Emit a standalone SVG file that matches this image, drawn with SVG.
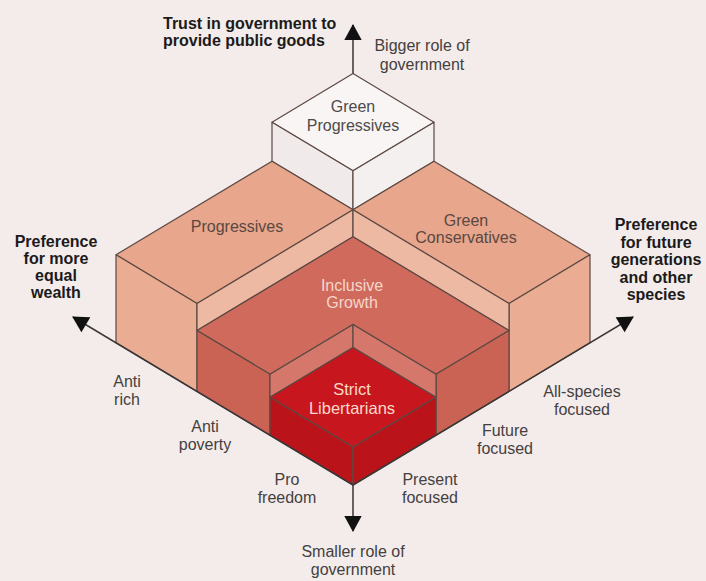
<svg xmlns="http://www.w3.org/2000/svg" width="706" height="581" viewBox="0 0 706 581">
<defs>
<style>
.bg{fill:#f3ecea}
.e{stroke:#5c4943;stroke-width:1.2;stroke-linejoin:round}
.gpT{fill:#f8f5f4}.gpL{fill:#f0ebea}.gpR{fill:#f4f0ef}
.wT{fill:#e8a68c}.wF{fill:#eaad94}.wI{fill:#eeb9a2}
.igT{fill:#cf6a5c}.igF{fill:#cb6355}.igI{fill:#d5786b}
.slT{fill:#c8161e}.slF{fill:#bb131a}
.ax{stroke:#3a3636;stroke-width:1.5;fill:none}
text{font-family:"Liberation Sans",Arial,sans-serif;font-size:16px;text-anchor:middle}
.hd{font-weight:bold;fill:#1c1a1a}
.al{fill:#45403f}
.nl{fill:#5a4842}
.gl{fill:#4e4a49}
.pl{fill:#f7d6cb}
.sl{fill:#fad9ca;font-size:16.5px}
</style>
<marker id="arr" markerUnits="userSpaceOnUse" markerWidth="20" markerHeight="20" refX="0" refY="0" orient="auto" overflow="visible" viewBox="-16 -10 18 20">
<path d="M1,0 L-15,-8.7 L-15,8.7 Z" fill="#111"/>
</marker>
</defs>
<rect class="bg" x="0" y="0" width="706" height="581"/>

<g id="green-progressives">
<polygon class="gpT e" points="353,170.8 272,122.2 353,73.6 434,122.2"/>
<polygon class="gpL e" points="353,170.8 272,122.2 272,161.2 353,209.8"/>
<polygon class="gpR e" points="353,170.8 434,122.2 434,161.2 353,209.8"/>
<text class="gl" x="353" y="112">Green</text>
<text class="gl" x="353" y="131">Progressives</text>
</g>

<g id="progressives">
<polygon class="wT e" points="116,254.8 272,161.2 353,209.8 197,303.4"/>
<polygon class="wF e" points="116,254.8 197,303.4 197,391.4 116,342.8"/>
<polygon class="wI e" points="197,303.4 353,209.8 353,236.8 197,330.4"/>
<text class="nl" x="237" y="232">Progressives</text>
</g>

<g id="green-conservatives">
<polygon class="wT e" points="590,254.8 434,161.2 353,209.8 509,303.4"/>
<polygon class="wF e" points="590,254.8 509,303.4 509,391.4 590,342.8"/>
<polygon class="wI e" points="509,303.4 353,209.8 353,236.8 509,330.4"/>
<text class="nl" x="466" y="226">Green</text>
<text class="nl" x="466" y="243">Conservatives</text>
</g>

<g id="inclusive-growth">
<polygon class="igT e" points="197,330.4 353,236.8 509,330.4 436,374.2 353,324.4 270,374.2"/>
<polygon class="igF e" points="197,330.4 270,374.2 270,435.2 197,391.4"/>
<polygon class="igF e" points="509,330.4 436,374.2 436,435.2 509,391.4"/>
<polygon class="igI e" points="270,374.2 353,324.4 353,347.4 270,397.2"/>
<polygon class="igI e" points="436,374.2 353,324.4 353,347.4 436,397.2"/>
<text class="pl" x="352" y="291">Inclusive</text>
<text class="pl" x="352" y="308">Growth</text>
</g>

<g id="strict-libertarians">
<polygon class="slT e" points="270,397.2 353,347.4 436,397.2 353,447"/>
<polygon class="slF e" points="270,397.2 353,447 353,485 270,435.2"/>
<polygon class="slF e" points="353,447 436,397.2 436,435.2 353,485"/>
<text class="sl" x="352" y="395">Strict</text>
<text class="sl" x="352" y="414">Libertarians</text>
</g>

<g id="connectors">
<line class="ax" x1="353" y1="73.6" x2="353" y2="25" marker-end="url(#arr)"/>
<line class="ax" x1="353" y1="485" x2="353" y2="531" marker-end="url(#arr)"/>
<line class="ax" x1="353" y1="485" x2="73" y2="317" marker-end="url(#arr)"/>
<line class="ax" x1="353" y1="485" x2="633" y2="317" marker-end="url(#arr)"/>
</g>

<g id="axis-titles">
<text class="hd" x="163" y="29" style="text-anchor:start">Trust in government to</text>
<text class="hd" x="163" y="46" style="text-anchor:start">provide public goods</text>
<text class="hd" x="56" y="246.5">Preference</text>
<text class="hd" x="56" y="263.5">for more</text>
<text class="hd" x="56" y="280.5">equal</text>
<text class="hd" x="56" y="297.5">wealth</text>
<text class="hd" x="656" y="230">Preference</text>
<text class="hd" x="656" y="247.5">for future</text>
<text class="hd" x="656" y="265">generations</text>
<text class="hd" x="656" y="282.5">and other</text>
<text class="hd" x="656" y="300">species</text>
</g>

<g id="axis-labels">
<text class="al" x="422" y="51">Bigger role of</text>
<text class="al" x="422" y="70">government</text>
<text class="al" x="127" y="387">Anti</text>
<text class="al" x="127" y="405">rich</text>
<text class="al" x="205" y="432">Anti</text>
<text class="al" x="205" y="450">poverty</text>
<text class="al" x="287" y="485">Pro</text>
<text class="al" x="287" y="503">freedom</text>
<text class="al" x="353" y="557">Smaller role of</text>
<text class="al" x="353" y="575">government</text>
<text class="al" x="430" y="485">Present</text>
<text class="al" x="430" y="503">focused</text>
<text class="al" x="505" y="436">Future</text>
<text class="al" x="505" y="454">focused</text>
<text class="al" x="582" y="397">All-species</text>
<text class="al" x="582" y="415">focused</text>
</g>
</svg>
